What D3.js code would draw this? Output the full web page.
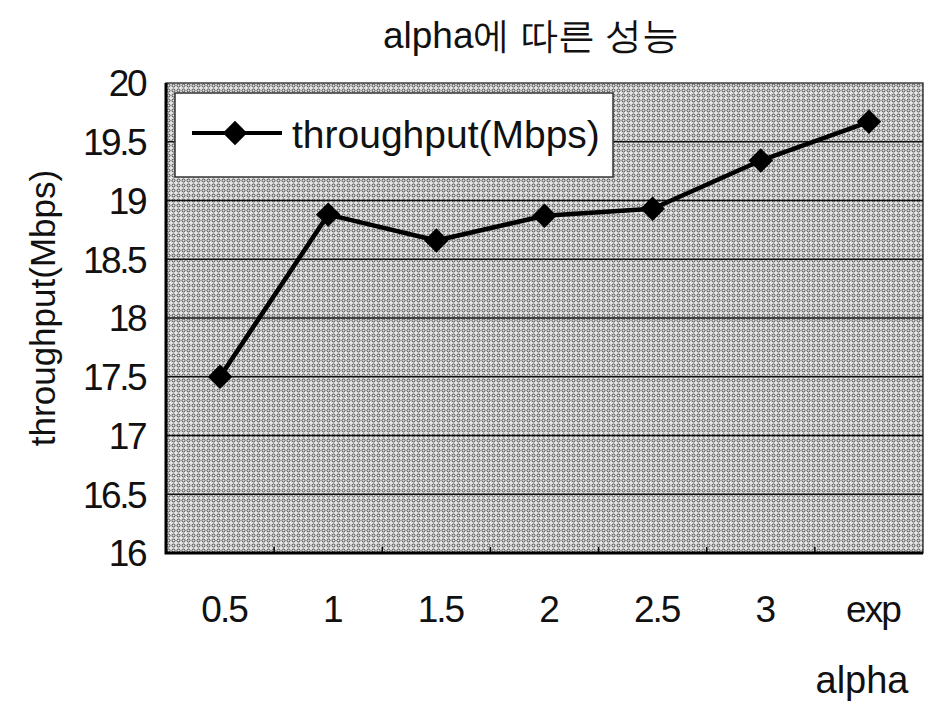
<!DOCTYPE html>
<html>
<head>
<meta charset="utf-8">
<script src="https://cdn.jsdelivr.net/npm/d3@7"></script>
<style>
  body { margin: 0; background: #fff; }
  svg text { font-family: "Liberation Sans", Arial, sans-serif; fill: #111; }
</style>
</head>
<body>
<svg id="chart" width="930" height="703"></svg>
<script>
const categories = ['0.5', '1', '1.5', '2', '2.5', '3', 'exp'];
const throughput = [17.5, 18.88, 18.66, 18.87, 18.93, 19.34, 19.67];
const yTicks = [16, 16.5, 17, 17.5, 18, 18.5, 19, 19.5, 20];

const seriesName = 'throughput(Mbps)';
const chartTitle = 'alpha에 따른 성능';
const xTitle = 'alpha';
const yTitle = 'throughput(Mbps)';

const margin = {left: 166, top: 83, right: 7, bottom: 150};
const width = 930 - margin.left - margin.right;
const height = 703 - margin.top - margin.bottom;

const svg = d3.select('#chart');

// dotted halftone background like the scanned original
const defs = svg.append('defs');
const pat = defs.append('pattern')
    .attr('id', 'dots')
    .attr('width', 5)
    .attr('height', 5)
    .attr('patternUnits', 'userSpaceOnUse');
pat.append('rect').attr('width', 5).attr('height', 5).attr('fill', '#e4e4e4');
pat.append('circle')
    .attr('cx', 2.5).attr('cy', 2.5).attr('r', 1.5)
    .attr('fill', 'none').attr('stroke', '#3a3a3a').attr('stroke-width', 0.9);

const x = d3.scaleBand().domain(categories).range([0, width]);
const y = d3.scaleLinear().domain([16, 20]).range([height, 0]);

const g = svg.append('g').attr('transform', `translate(${margin.left},${margin.top})`);

g.append('rect')
    .attr('width', width)
    .attr('height', height)
    .attr('fill', 'url(#dots)');

// grid lines
g.selectAll('line.grid')
    .data(yTicks.slice(1, -1))
    .join('line')
    .classed('grid', true)
    .attr('x1', 0).attr('x2', width)
    .attr('y1', d => y(d)).attr('y2', d => y(d))
    .attr('stroke', '#111')
    .attr('stroke-width', 1.3);

// frame
g.append('rect')
    .attr('width', width)
    .attr('height', height)
    .attr('fill', 'none')
    .attr('stroke', '#222')
    .attr('stroke-width', 1.3);
g.append('path')
    .attr('d', `M0,0V${height}H${width}`)
    .attr('fill', 'none')
    .attr('stroke', '#000')
    .attr('stroke-width', 3);

// category boundary ticks
g.selectAll('line.xtick')
    .data(categories.slice(1))
    .join('line')
    .classed('xtick', true)
    .attr('x1', d => x(d)).attr('x2', d => x(d))
    .attr('y1', height).attr('y2', height - 6)
    .attr('stroke', '#000')
    .attr('stroke-width', 1.5);

// y tick labels
g.selectAll('text.ylab')
    .data(yTicks)
    .join('text')
    .classed('ylab', true)
    .attr('x', -21)
    .attr('y', d => y(d))
    .attr('dy', '0.36em')
    .attr('text-anchor', 'end')
    .attr('font-size', 37)
    .attr('letter-spacing', -2.5)
    .text(d => d);

// x tick labels
g.selectAll('text.xlab')
    .data(categories)
    .join('text')
    .classed('xlab', true)
    .attr('x', d => x(d) + x.bandwidth() / 2 + 4)
    .attr('y', height + 69)
    .attr('text-anchor', 'middle')
    .attr('font-size', 37)
    .attr('letter-spacing', -2)
    .text(d => d);

// series
const line = d3.line()
    .x((d, i) => x(categories[i]) + x.bandwidth() / 2)
    .y(d => y(d));

g.append('path')
    .datum(throughput)
    .attr('d', line)
    .attr('fill', 'none')
    .attr('stroke', '#000')
    .attr('stroke-width', 4.5)
    .attr('stroke-linejoin', 'round');

const diamond = d3.symbol().type(d3.symbolDiamond2).size(380);
g.selectAll('path.marker')
    .data(throughput)
    .join('path')
    .classed('marker', true)
    .attr('d', diamond)
    .attr('transform', (d, i) => `translate(${x(categories[i]) + x.bandwidth() / 2},${y(d)})`)
    .attr('fill', '#000');

// legend
const legend = svg.append('g').attr('transform', 'translate(175,93)');
legend.append('rect')
    .attr('width', 438)
    .attr('height', 84)
    .attr('fill', '#fff')
    .attr('stroke', '#333')
    .attr('stroke-width', 1.5);
legend.append('line')
    .attr('x1', 17).attr('x2', 107)
    .attr('y1', 40).attr('y2', 40)
    .attr('stroke', '#000')
    .attr('stroke-width', 4);
legend.append('path')
    .attr('d', diamond)
    .attr('transform', 'translate(60,40)')
    .attr('fill', '#000');
legend.append('text')
    .attr('x', 117)
    .attr('y', 55)
    .attr('font-size', 39)
    .text(seriesName);

// titles
svg.append('text')
    .attr('x', 531)
    .attr('y', 48)
    .attr('text-anchor', 'middle')
    .attr('font-size', 37)
    .text(chartTitle);

svg.append('text')
    .attr('transform', 'translate(55,308) rotate(-90)')
    .attr('text-anchor', 'middle')
    .attr('font-size', 35)
    .text(yTitle);

svg.append('text')
    .attr('x', 862)
    .attr('y', 693)
    .attr('text-anchor', 'middle')
    .attr('font-size', 38)
    .text(xTitle);
</script>
</body>
</html>
